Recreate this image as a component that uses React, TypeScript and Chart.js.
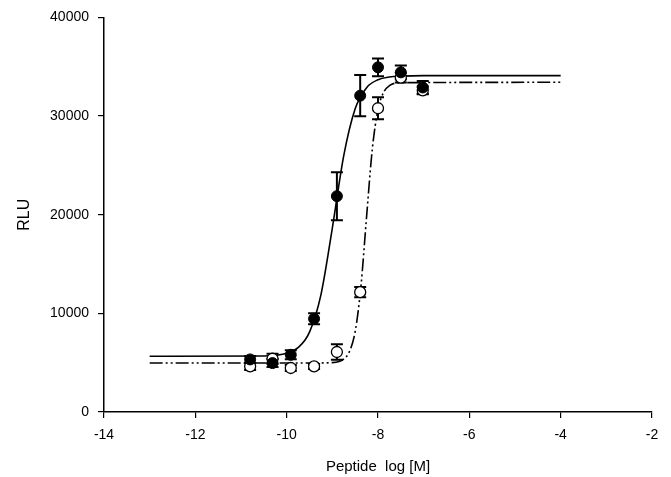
import React, { useEffect, useRef } from "react";
import { Chart, registerables } from "chart.js";

Chart.register(...registerables);

// Measured data points (log [M] vs RLU)
const logConc = [-10.8, -10.31, -9.91, -9.4, -8.9, -8.39, -8.0, -7.5, -7.02];
const filledValues = [5330, 4960, 5800, 9450, 21880, 32070, 34940, 34430, 32900];
const filledErrors = [350, 400, 450, 550, 2430, 2090, 900, 700, 650];
const openValues = [4620, 5400, 4460, 4620, 6080, 12150, 30790, 33900, 32600];
const openErrors = [350, 500, 300, 250, 780, 510, 1110, 500, 400];

// Fitted curves
const solidCurveX = [-13, -10.5, -10.25, -10, -9.75, -9.5, -9.25, -9, -8.75, -8.5, -8.25, -8, -7.75, -7.5, -7, -4];
const solidCurveY = [5650, 5680, 5750, 5950, 6520, 8100, 11880, 18650, 25990, 30740, 32880, 33680, 33960, 34050, 34100, 34100];
const dashCurveX = [-13, -9.5, -9, -8.75, -8.625, -8.5, -8.375, -8.25, -8.125, -8, -7.875, -7.75, -7.5, -4];
const dashCurveY = [4960, 4965, 5010, 5370, 6135, 8150, 12670, 19800, 26640, 30680, 32420, 33080, 33380, 33420];

const xTicks = [-14, -12, -10, -8, -6, -4, -2];
const yTicks = [0, 10000, 20000, 30000, 40000];

const FONT = "'Liberation Sans', Arial, sans-serif";

const errorBarPlugin = {
  id: "errorBars",
  beforeDatasetsDraw(chart: any) {
    const ctx = chart.ctx;
    const xs = chart.scales.x;
    const ys = chart.scales.y;
    chart.data.datasets.forEach((ds: any) => {
      if (!ds.errors) return;
      ctx.save();
      ctx.strokeStyle = "#000";
      ctx.lineWidth = 2;
      ds.data.forEach((p: any, i: number) => {
        const e = ds.errors[i];
        const px = xs.getPixelForValue(p.x);
        const y1 = ys.getPixelForValue(p.y + e);
        const y2 = ys.getPixelForValue(p.y - e);
        const cap = 6;
        ctx.beginPath();
        ctx.moveTo(px, y1);
        ctx.lineTo(px, y2);
        ctx.moveTo(px - cap, y1);
        ctx.lineTo(px + cap, y1);
        ctx.moveTo(px - cap, y2);
        ctx.lineTo(px + cap, y2);
        ctx.stroke();
      });
      ctx.restore();
    });
  },
};

export default function App() {
  const ref = useRef<HTMLCanvasElement | null>(null);
  useEffect(() => {
    if (!ref.current) return;
    const chart = new Chart(ref.current, {
      type: "scatter",
      data: {
        datasets: [
          {
            label: "filled",
            data: logConc.map((x, i) => ({ x, y: filledValues[i] })),
            errors: filledErrors,
            showLine: false,
            pointRadius: 5.5,
            pointBackgroundColor: "#000",
            pointBorderColor: "#000",
            pointBorderWidth: 1,
          } as any,
          {
            label: "open",
            data: logConc.map((x, i) => ({ x, y: openValues[i] })),
            errors: openErrors,
            showLine: false,
            pointRadius: 5.5,
            pointBackgroundColor: "#fff",
            pointBorderColor: "#000",
            pointBorderWidth: 1.3,
          } as any,
          {
            label: "fitSolid",
            data: solidCurveX.map((x, i) => ({ x, y: solidCurveY[i] })),
            showLine: true,
            pointRadius: 0,
            borderColor: "#000",
            borderWidth: 1.6,
            cubicInterpolationMode: "monotone",
          },
          {
            label: "fitDash",
            data: dashCurveX.map((x, i) => ({ x, y: dashCurveY[i] })),
            showLine: true,
            pointRadius: 0,
            borderColor: "#000",
            borderWidth: 1.6,
            borderDash: [13, 3, 2, 3, 2, 3],
            cubicInterpolationMode: "monotone",
          },
        ],
      },
      options: {
        animation: false,
        responsive: false,
        layout: { padding: { left: 15, top: 17, right: 19, bottom: 0 } },
        plugins: { legend: { display: false }, tooltip: { enabled: false } },
        scales: {
          x: {
            type: "linear",
            min: -14,
            max: -2,
            afterBuildTicks: (s: any) => {
              s.ticks = xTicks.map((v) => ({ value: v }));
            },
            afterFit: (s: any) => {
              s.height = 65;
            },
            border: { display: true, color: "#000", width: 1.5 },
            grid: { drawOnChartArea: false, drawTicks: true, tickLength: 6, color: "#000", lineWidth: 1.2 },
            ticks: { color: "#000", font: { family: FONT, size: 14 }, padding: 9, maxRotation: 0 },
            title: {
              display: true,
              text: "Peptide  log [M]",
              color: "#000",
              font: { family: FONT, size: 15 },
              padding: { top: 0, bottom: 1 },
            },
          },
          y: {
            type: "linear",
            min: 0,
            max: 40000,
            afterBuildTicks: (s: any) => {
              s.ticks = yTicks.map((v) => ({ value: v }));
            },
            afterFit: (s: any) => {
              s.width = 89;
            },
            border: { display: true, color: "#000", width: 1.5 },
            grid: { drawOnChartArea: false, drawTicks: true, tickLength: 6, color: "#000", lineWidth: 1.2 },
            ticks: { color: "#000", font: { family: FONT, size: 14 }, padding: 9, callback: (v: any) => String(v) },
            title: {
              display: true,
              text: "RLU",
              color: "#000",
              font: { family: FONT, size: 16 },
              padding: { top: 0, bottom: 0 },
            },
          },
        },
      },
      plugins: [errorBarPlugin],
    });
    return () => chart.destroy();
  }, []);
  return (
    <div style={{ position: "fixed", left: 0, top: 0, width: 671, height: 477, background: "#fff" }}>
      <canvas ref={ref} width={671} height={477} />
    </div>
  );
}
